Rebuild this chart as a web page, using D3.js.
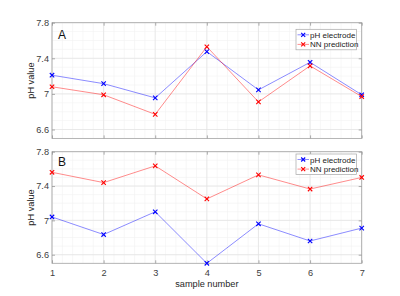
<!DOCTYPE html>
<html>
<head>
    <meta charset="UTF-8">
    <script src="https://d3js.org/d3.v7.min.js"></script>
    <style>
        body { margin: 0; background: #fff; }
        text { font-family: "Liberation Sans", Arial, sans-serif; }
    </style>
</head>
<body>
    <script>
        const samples = [1, 2, 3, 4, 5, 6, 7];
        const yTicks = [6.6, 7, 7.4, 7.8];
        const seriesNames = ["pH electrode", "NN prediction"];
        const panelLabels = ["A", "B"];

        const electrodeA = [7.21, 7.115, 6.955, 7.475, 7.045, 7.355, 6.99];
        const predictionA = [7.08, 6.99, 6.77, 7.53, 6.91, 7.315, 6.97];
        const electrodeB = [7.04, 6.835, 7.10, 6.50, 6.96, 6.76, 6.91];
        const predictionB = [7.56, 7.44, 7.635, 7.25, 7.53, 7.365, 7.50];

        const colors = ["#0000ff", "#ff0000"];
        const width = 400, height = 296;

        const svg = d3.select("body").append("svg")
            .attr("width", width).attr("height", height);

        const x = d3.scaleLinear().domain([1, 7]).range([52, 361.7]);

        const panels = [
            { label: panelLabels[0], top: 22.7, bottom: 138.4, series: [electrodeA, predictionA], xLabels: false, labelY: 16.6, legendY: 6.6 },
            { label: panelLabels[1], top: 151.7, bottom: 263.3, series: [electrodeB, predictionB], xLabels: true, labelY: 14, legendY: 2.3 }
        ];

        panels.forEach(p => {
            const y = d3.scaleLinear().domain([6.5, 7.8]).range([p.bottom, p.top]);
            const g = svg.append("g");

            // minor grid
            const xMinor = d3.range(1, 7.001, 0.2);
            const yMinor = d3.range(6.5, 7.801, 0.1);
            g.selectAll(".mx").data(xMinor).enter().append("line")
                .attr("x1", d => x(d)).attr("x2", d => x(d))
                .attr("y1", p.top).attr("y2", p.bottom)
                .attr("stroke", "#f2f2f2").attr("stroke-width", 0.6);
            g.selectAll(".my").data(yMinor).enter().append("line")
                .attr("x1", x(1)).attr("x2", x(7))
                .attr("y1", d => y(d)).attr("y2", d => y(d))
                .attr("stroke", "#f2f2f2").attr("stroke-width", 0.6);
            // major grid
            g.selectAll(".gx").data(samples).enter().append("line")
                .attr("x1", d => x(d)).attr("x2", d => x(d))
                .attr("y1", p.top).attr("y2", p.bottom)
                .attr("stroke", "#e3e3e3").attr("stroke-width", 0.7);
            g.selectAll(".gy").data(yTicks).enter().append("line")
                .attr("x1", x(1)).attr("x2", x(7))
                .attr("y1", d => y(d)).attr("y2", d => y(d))
                .attr("stroke", "#e3e3e3").attr("stroke-width", 0.7);

            // box
            g.append("rect")
                .attr("x", x(1)).attr("y", p.top)
                .attr("width", x(7) - x(1)).attr("height", p.bottom - p.top)
                .attr("fill", "none").attr("stroke", "#a6a6a6").attr("stroke-width", 0.8);

            // ticks inward
            g.append("g").attr("class", "xb").attr("transform", `translate(0,${p.bottom})`)
                .call(d3.axisBottom(x).tickValues(samples).tickSize(-3).tickPadding(6)
                    .tickFormat(p.xLabels ? d3.format("d") : ""));
            g.append("g").attr("transform", `translate(0,${p.top})`)
                .call(d3.axisTop(x).tickValues(samples).tickSize(-3).tickFormat(""));
            g.append("g").attr("class", "yl").attr("transform", `translate(${x(1)},0)`)
                .call(d3.axisLeft(y).tickValues(yTicks).tickSize(-3).tickPadding(3)
                    .tickFormat(d => d === 7 ? "7" : d3.format(".1f")(d)));
            g.append("g").attr("transform", `translate(${x(7)},0)`)
                .call(d3.axisRight(y).tickValues(yTicks).tickSize(-3).tickFormat(""));

            g.selectAll(".domain").remove();
            g.selectAll(".tick line").attr("stroke", "#8c8c8c").attr("stroke-width", 0.7);
            g.selectAll(".tick text").attr("fill", "#404040").attr("font-size", 9.2)
                .attr("font-family", "Liberation Sans, Arial, sans-serif");
            g.select(".yl").selectAll(".tick text").attr("x", -3);

            // series
            const line = d3.line().x((d, i) => x(samples[i])).y(d => y(d));
            p.series.forEach((s, k) => {
                g.append("path").datum(s)
                    .attr("d", line)
                    .attr("fill", "none").attr("stroke", colors[k])
                    .attr("stroke-opacity", 0.45).attr("stroke-width", 1);
                g.selectAll(".m" + k).data(s).enter().append("path")
                    .attr("d", (d, i) => {
                        const cx = x(samples[i]), cy = y(d), r = 2.2;
                        return `M${cx - r},${cy - r}L${cx + r},${cy + r}M${cx - r},${cy + r}L${cx + r},${cy - r}`;
                    })
                    .attr("stroke", colors[k]).attr("stroke-width", 1.1).attr("fill", "none");
            });

            // panel label
            g.append("text").attr("x", 58).attr("y", p.top + p.labelY)
                .attr("font-size", 12).attr("fill", "#111").text(p.label);

            // y label
            g.append("text")
                .attr("transform", `translate(34,${(p.top + p.bottom) / 2}) rotate(-90)`)
                .attr("text-anchor", "middle").attr("font-size", 9.2).attr("fill", "#262626")
                .text("pH value");

            // legend
            const lg = g.append("g").attr("transform", `translate(296,${p.top + p.legendY})`);
            lg.append("rect").attr("width", 60.5).attr("height", 20.5)
                .attr("fill", "#fff").attr("stroke", "#a6a6a6").attr("stroke-width", 0.7);
            seriesNames.forEach((n, k) => {
                const yy = 5.5 + k * 9.6;
                lg.append("line").attr("x1", 1.5).attr("x2", 13).attr("y1", yy).attr("y2", yy)
                    .attr("stroke", colors[k]).attr("stroke-opacity", 0.45);
                const r = 2;
                lg.append("path")
                    .attr("d", `M${7.2 - r},${yy - r}L${7.2 + r},${yy + r}M${7.2 - r},${yy + r}L${7.2 + r},${yy - r}`)
                    .attr("stroke", colors[k]).attr("stroke-width", 1.1);
                lg.append("text").attr("x", 14).attr("y", yy + 3)
                    .attr("font-size", 8).attr("fill", "#222").text(n);
            });
        });

        svg.append("text").attr("x", (x(1) + x(7)) / 2).attr("y", 287)
            .attr("text-anchor", "middle").attr("font-size", 9.2).attr("fill", "#262626")
            .text("sample number");
    </script>
</body>
</html>
